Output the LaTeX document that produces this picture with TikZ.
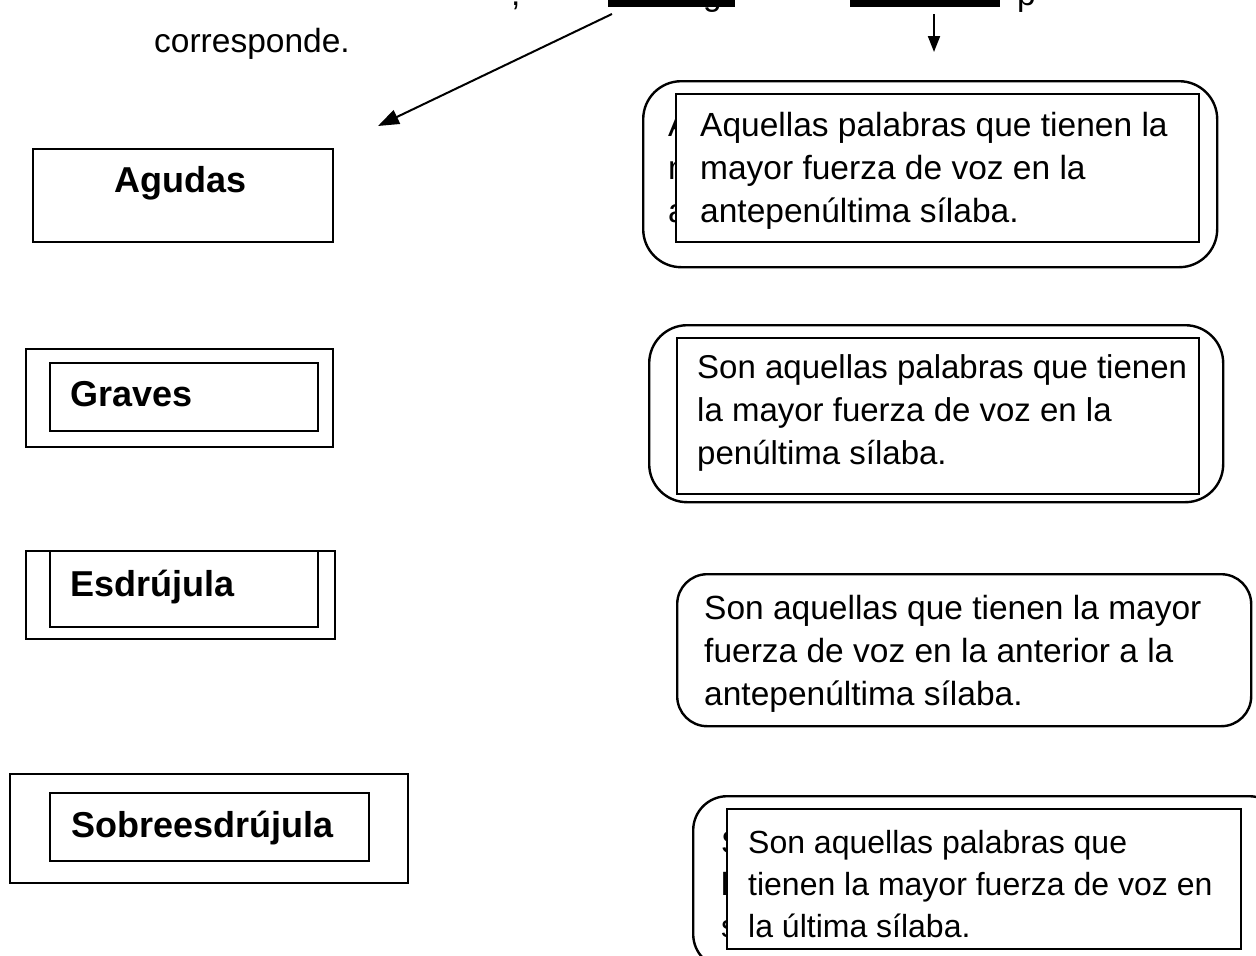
\documentclass[tikz,border=0pt]{standalone}
\usepackage{fontspec}
\setmainfont{Liberation Sans}
\usetikzlibrary{arrows.meta}
\begin{document}
\begin{tikzpicture}[x=1pt,y=-1pt,
  lbl/.style={font=\fontsize{36}{43}\selectfont\bfseries, inner sep=0pt, anchor=base west},
  para/.style={font=\fontsize{33.5}{43}\selectfont, inner sep=0pt, anchor=north west, align=left},
  parasm/.style={font=\fontsize{33}{43}\selectfont, inner sep=0pt, anchor=north west, align=left},
  paraxs/.style={font=\fontsize{32}{42}\selectfont, inner sep=0pt, anchor=north west, align=left},
  toptxt/.style={font=\fontsize{33.5}{43}\selectfont, inner sep=0pt, anchor=base west},
  outerbox/.style={draw, line width=2.4pt, rounded corners=38pt, inner sep=0pt, anchor=north west},
  sqbox/.style={draw, line width=2.2pt, inner sep=0pt, anchor=north west},
  inbox/.style={draw, fill=white, line width=1.8pt, inner sep=0pt, anchor=north west},
  bar/.style={fill=black, inner sep=0pt, anchor=north west},
  arrA/.style={line width=2pt, -{Triangle[length=21pt,width=15pt]}},
  arrB/.style={line width=2pt, -{Triangle[length=16pt,width=12pt]}}
]
\useasboundingbox (0,0) rectangle (1256,956);
\fill[white] (0,0) rectangle (1256,956);

% --- cut-off top line ---
\node[toptxt] (comma) at (511,5) {,};
\node[toptxt] (gfrag) at (703,5) {g};
\node[toptxt] (pfrag) at (1017,5) {p};
\node[bar, minimum width=127pt, minimum height=20pt] (bar1) at (608,-13) {};
\node[bar, minimum width=150pt, minimum height=20pt] (bar2) at (850,-13) {};
\node[toptxt] (corresp) at (154,52) {corresponde.};

% --- arrows ---
\coordinate (a1s) at (612,14);
\coordinate (a1e) at (378,126);
\draw[arrA] (a1s) -- (a1e);
\coordinate (a2s) at (934,14);
\coordinate (a2e) at (934,52);
\draw[arrB] (a2s) -- (a2e);

% --- left column ---
\node[sqbox, minimum width=300pt, minimum height=93pt] (agudasbox) at (32,148) {};
\node[lbl, anchor=base] (agudas) at (181,192) {Agudas};

\node[sqbox, minimum width=307pt, minimum height=98pt] (gravesout) at (25,348) {};
\node[sqbox, minimum width=268pt, minimum height=68pt] (gravesin) at (49,362) {};
\node[lbl] (graves) at (70,406) {Graves};

\node[sqbox, minimum width=309pt, minimum height=88pt] (esdout) at (25,550) {};
\node[sqbox, minimum width=268pt, minimum height=76pt] (esdin) at (49,550) {};
\node[lbl] (esd) at (70,596) {Esdrújula};

\node[sqbox, minimum width=398pt, minimum height=109pt] (sobout) at (9,773) {};
\node[sqbox, minimum width=319pt, minimum height=68pt] (sobin) at (49,792) {};
\node[lbl] (sob) at (71,837) {Sobreesdrújula};

% --- right column ---
\node[outerbox, minimum width=574pt, minimum height=186pt] (r1out) at (642,80) {};
\node[para] (r1hid) at (668,112) {Aquellas palabras que tienen la\\mayor fuerza de voz en la\\antepenúltima sílaba.};
\node[inbox, minimum width=523pt, minimum height=148pt] (r1in) at (675,93) {};
\node[para] (r1txt) at (700,112) {Aquellas palabras que tienen la\\mayor fuerza de voz en la\\antepenúltima sílaba.};

\node[outerbox, minimum width=574pt, minimum height=177pt] (r2out) at (648,324) {};
\node[inbox, minimum width=522pt, minimum height=156pt] (r2in) at (676,337) {};
\node[parasm] (r2txt) at (697,354) {Son aquellas palabras que tienen\\la mayor fuerza de voz en la\\penúltima sílaba.};

\node[outerbox, rounded corners=30pt, minimum width=574pt, minimum height=152pt] (r3out) at (676,573) {};
\node[para] (r3txt) at (704,595) {Son aquellas que tienen la mayor\\fuerza de voz en la anterior a la\\antepenúltima sílaba.};

\node[outerbox, rounded corners=34pt, minimum width=590pt, minimum height=172pt] (r4out) at (692,795) {};
\node[paraxs] (r4hid) at (721,830) {Son aquellas palabras que tienen\\la mayor fuerza de voz en la última\\sílaba.};
\node[inbox, minimum width=514pt, minimum height=140pt] (r4in) at (726,808) {};
\node[paraxs] (r4txt) at (748,830) {Son aquellas palabras que\\tienen la mayor fuerza de voz en\\la última sílaba.};
\end{tikzpicture}
\end{document}
